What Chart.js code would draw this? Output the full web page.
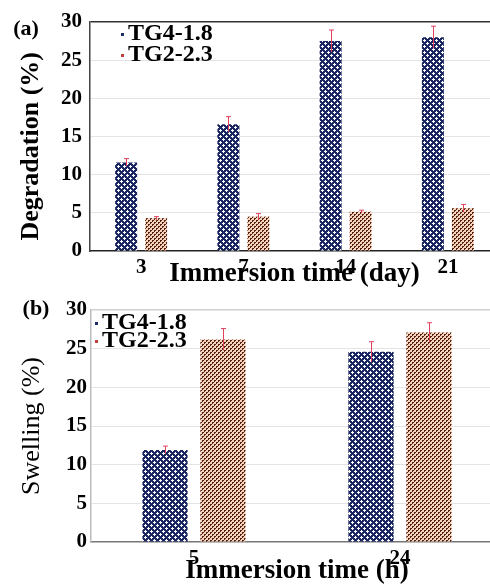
<!DOCTYPE html>
<html>
<head>
<meta charset="utf-8">
<script src="https://cdn.jsdelivr.net/npm/chart.js@4.4.1/dist/chart.umd.min.js"></script>
<style>
  html, body { margin: 0; padding: 0; background: #fff; overflow: hidden; }
  .box { position: absolute; left: 0; width: 505px; }
</style>
</head>
<body>
<div class="box" style="top:0;height:290px"><canvas id="degChart"></canvas></div>
<div class="box" style="top:290px;height:297px"><canvas id="swellChart"></canvas></div>
<script>
const days = ["3", "7", "14", "21"];
const degTG4 = [11.6, 16.6, 27.5, 28.0];
const degTG4Err = [0.5, 1.0, 1.45, 1.45];
const degTG2 = [4.3, 4.5, 5.15, 5.6];
const degTG2Err = [0.2, 0.4, 0.2, 0.5];

const hours = ["5", "24"];
const swTG4 = [11.9, 24.6];
const swTG4Err = [0.5, 1.3];
const swTG2 = [26.2, 27.1];
const swTG2Err = [1.4, 1.25];

const yTicks = [0, 5, 10, 15, 20, 25, 30];

// fill patterns, drawn pixel by pixel so they stay crisp at dpr 1
function pixelPattern(size, bg, fg, pts) {
  const c = document.createElement("canvas");
  c.width = size; c.height = size;
  const g = c.getContext("2d");
  g.fillStyle = bg;
  g.fillRect(0, 0, size, size);
  g.fillStyle = fg;
  pts.forEach(p => g.fillRect(p[0], p[1], 1, 1));
  return g.createPattern(c, "repeat");
}
function bluePattern() {
  // two plus-shaped white holes per 6x6 tile
  return pixelPattern(6, "#1a2762", "#ffffff", [
    [1, 0], [0, 1], [1, 1], [2, 1], [1, 2],
    [4, 3], [3, 4], [4, 4], [5, 4], [4, 5],
  ]);
}
function brownPattern() {
  return pixelPattern(4, "#f3d4bc", "#5a1e10", [
    [0, 0], [1, 0], [0, 1],
    [2, 2], [3, 2], [2, 3],
  ]);
}

const errorBars = {
  id: "errorBars",
  afterDatasetsDraw(chart) {
    const ctx = chart.ctx;
    const y = chart.scales.y;
    chart.data.datasets.forEach((ds, i) => {
      const meta = chart.getDatasetMeta(i);
      meta.data.forEach((bar, j) => {
        const v = ds.data[j], e = ds.err[j];
        const top = y.getPixelForValue(v + e);
        const bot = y.getPixelForValue(v - e);
        const x = Math.round(bar.x) + 0.5;
        ctx.save();
        ctx.strokeStyle = "#e2405c";
        ctx.lineWidth = 1;
        ctx.beginPath();
        ctx.moveTo(x, top); ctx.lineTo(x, bot);
        ctx.moveTo(x - 2.5, top); ctx.lineTo(x + 2.5, top);
        ctx.stroke();
        ctx.restore();
      });
    });
  }
};

const sideText = {
  id: "sideText",
  afterDraw(chart, args, opts) {
    const ctx = chart.ctx;
    ctx.save();
    ctx.fillStyle = "#000";
    ctx.textBaseline = "middle";
    ctx.font = "bold 22px 'Liberation Serif'";
    ctx.textAlign = "center";
    ctx.fillText(opts.tag, opts.tagX, opts.tagY);
    // legend
    ctx.textAlign = "left";
    ctx.font = "bold 24px 'Liberation Serif'";
    chart.data.datasets.forEach((ds, i) => {
      const ly = opts.legY + i * opts.legGap;
      ctx.fillStyle = ds.markColor;
      ctx.fillRect(opts.legX - 7, ly - 1, 3, 3);
      ctx.fillStyle = "#000";
      ctx.fillText(ds.label, opts.legX, ly);
    });
    ctx.restore();
  }
};

function makeChart(id, labels, s1, e1, s2, e2, cfg) {
  return new Chart(document.getElementById(id), {
    type: "bar",
    data: {
      labels: labels,
      datasets: [
        {
          label: "TG4-1.8",
          data: s1,
          err: e1,
          backgroundColor: bluePattern(),
          markColor: "#1d2b68",
          categoryPercentage: cfg.catPct,
          barPercentage: cfg.barPct,
        },
        {
          label: "TG2-2.3",
          data: s2,
          err: e2,
          backgroundColor: brownPattern(),
          markColor: "#c04040",
          categoryPercentage: cfg.catPct,
          barPercentage: cfg.barPct,
        },
      ],
    },
    options: {
      responsive: true,
      maintainAspectRatio: false,
      animation: false,
      layout: { padding: { top: cfg.top, right: cfg.right, left: 0, bottom: 0 } },
      plugins: {
        legend: { display: false },
        tooltip: { enabled: false },
        sideText: cfg.side,
      },
      scales: {
        x: {
          afterFit(s) { s.height = cfg.xHeight; },
          grid: { display: false, drawTicks: false },
          border: { display: true, color: cfg.bottomColor, width: 1.5 },
          ticks: {
            color: "#000",
            padding: cfg.xTickPad,
            font: { family: "'Liberation Serif'", size: 21, weight: "bold" },
          },
          title: {
            display: true,
            text: cfg.xTitle,
            color: "#000",
            padding: 0,
            font: { family: "'Liberation Serif'", size: 27, weight: "bold" },
          },
        },
        y: {
          min: 0,
          max: 30,
          afterFit(s) { s.width = cfg.yWidth; },
          afterBuildTicks(s) { s.ticks = yTicks.map(v => ({ value: v })); },
          grid: {
            drawTicks: false,
            color: c => c.tick.value === 30 ? cfg.topColor : (c.tick.value === 0 ? "rgba(0,0,0,0)" : "#e4e4e4"),
            lineWidth: c => c.tick.value === 30 ? 1.5 : 1,
          },
          border: { display: true, color: cfg.leftColor, width: 1.5 },
          ticks: {
            color: "#000",
            padding: cfg.yTickPad,
            font: { family: "'Liberation Serif'", size: 21, weight: "bold" },
          },
          title: {
            display: true,
            text: cfg.yTitle,
            color: "#000",
            padding: { top: cfg.yTitlePad, bottom: 0 },
            font: { family: "'Liberation Serif'", size: 26, weight: cfg.yTitleWeight },
          },
        },
      },
    },
    plugins: [errorBars, sideText],
  });
}

makeChart("degChart", days, degTG4, degTG4Err, degTG2, degTG2Err, {
  catPct: 0.587, barPct: 0.733,
  top: 22, right: 6, xHeight: 39, yWidth: 90, yTickPad: 8, xTickPad: 4,
  xTitle: "Immersion time (day)", yTitle: "Degradation (%)   ", yTitleWeight: "bold", yTitlePad: 16,
  bottomColor: "#222", topColor: "#333", leftColor: "#444",
  side: { tag: "(a)", tagX: 26, tagY: 29, legX: 128, legY: 34, legGap: 21 },
});

makeChart("swellChart", hours, swTG4, swTG4Err, swTG2, swTG2Err, {
  catPct: 0.563, barPct: 0.78,
  top: 20, right: 2, xHeight: 45, yWidth: 91, yTickPad: 4, xTickPad: 4,
  xTitle: "Immersion time (h)", yTitle: "Swelling (%)", yTitleWeight: "normal", yTitlePad: 17,
  bottomColor: "#777", topColor: "#d0d0d0", leftColor: "#bbb",
  side: { tag: "(b)", tagX: 36, tagY: 19, legX: 102, legY: 33, legGap: 18 },
});
</script>
</body>
</html>
